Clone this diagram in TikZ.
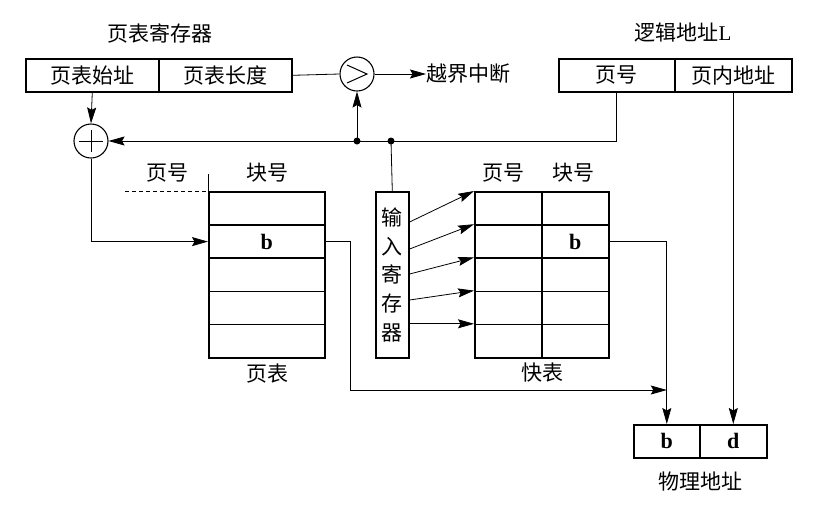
\documentclass[tikz,border=0pt]{standalone}
\usepackage{fontspec}
\setmainfont{Liberation Serif}
\newfontfamily\cjk{Noto Sans CJK SC}
\usetikzlibrary{arrows.meta}
\tikzset{
  head/.tip={Stealth[length=16pt,width=9pt,inset=2.5pt]},
}
\begin{document}
\begin{tikzpicture}[x=1pt,y=-1pt,
  box/.style={draw, line width=1.6pt, inner sep=0pt, anchor=north west, font=\cjk\fontsize{21}{21}\selectfont},
  conn/.style={line width=0.8pt},
  arr/.style={conn,-head},
  lab/.style={font=\cjk\fontsize{21}{21}\selectfont, inner sep=0pt},
  bold/.style={font=\bfseries\fontsize{22}{22}\selectfont},
  dot/.style={circle, fill, inner sep=0pt, minimum size=7pt},
  ring/.style={draw, circle, line width=1.1pt, inner sep=0pt, minimum size=34pt},
  glyph/.style={line width=1pt}]
\useasboundingbox (0,0) rectangle (824,515);
\fill[white] (0,0) rectangle (824,515);

% page table register
\node[lab] (trt) at (160,33) {页表寄存器};
\node[box, minimum width=133pt, minimum height=33pt] (ra) at (25,58) {页表始址};
\node[box, minimum width=133pt, minimum height=33pt] (rb) at (158,58) {页表长度};

% comparator and adder
\node[ring] (cmp) at (357,74) {};
\draw[glyph] (cmp.center) ++(-10,-9) -- ++(20,9) -- ++(-20,9);
\node[ring] (plus) at (91,141) {};
\draw[glyph] (plus.center) ++(-12,0) -- ++(24,0);
\draw[glyph] (plus.center) ++(0,-11) -- ++(0,22);
\node[lab, anchor=west] (ovf) at (426,74) {越界中断};

% logical address
\node[lab] (lat) at (683,33) {逻辑地址{\rmfamily L}};
\node[box, minimum width=116pt, minimum height=33pt] (la1) at (558,58) {页号};
\node[box, minimum width=117pt, minimum height=33pt] (la2) at (674,58) {页内地址};

% junction dots
\node[dot] (d1) at (357,141) {};
\node[dot] (d2) at (391,141) {};

% page table
\foreach \i/\y in {1/191,2/224.2,3/257.4,4/290.6,5/323.8}{
  \node[box, minimum width=116pt, minimum height=33.2pt] (pt\i) at (208,\y) {};
}
\node[bold] at (pt2) {b};
\node[lab] (ph1) at (167,173) {页号};
\node[lab] (ph2) at (267,173) {块号};
\node[lab] (ptl) at (267,374) {页表};
\draw[conn] (pt1.north west) -- ++(0,-17);
\draw[conn, dash pattern=on 4pt off 3pt] (125,191) -- (pt1.north west);

% input register
\node[box, minimum width=33pt, minimum height=166pt, align=center,
      font=\cjk\fontsize{21}{28.7}\selectfont] (inreg) at (375,191) {输\\入\\寄\\存\\器};

% fast table
\foreach \i/\y in {1/191,2/224.2,3/257.4,4/290.6,5/323.8}{
  \node[box, minimum width=67pt, minimum height=33.2pt] (fl\i) at (474,\y) {};
  \node[box, minimum width=67pt, minimum height=33.2pt] (fr\i) at (541,\y) {};
}
\node[bold] at (fr2) {b};
\node[lab] (fh1) at (503,173) {页号};
\node[lab] (fh2) at (573,173) {块号};
\node[lab] (ftl) at (542,373) {快表};

% physical address
\node[box, minimum width=66pt, minimum height=33pt, font=\bfseries\fontsize{22}{22}\selectfont] (pb) at (633,424) {b};
\node[box, minimum width=67pt, minimum height=33pt, font=\bfseries\fontsize{22}{22}\selectfont] (pd) at (699,424) {d};
\node[lab] (pal) at (700,482) {物理地址};

% connectors
\draw[arr] (ra.south) -- (plus.north);
\draw[conn] (rb.east) -- (cmp.west);
\draw[arr] (cmp.east) -- (ovf.west);
\draw[arr] (la1.south) |- (plus.east);
\draw[arr] (d1.center) -- (cmp.south);
\draw[conn] (d2.center) -- (inreg.north);
\draw[arr] (plus.south) |- (pt2.west);
\coordinate (mj) at (pb.north |- 0,390);
\draw[arr] (pt2.east) -- ++(25,0) |- (mj);
\draw[arr] (fr2.east) -| (pb.north);
\draw[arr] (la2.south) -- (pd.north);
\draw[arr] (inreg.east |- 0,222) -- (fl1.north west);
\draw[arr] (inreg.east |- 0,249) -- (fl2.north west);
\draw[arr] (inreg.east |- 0,274) -- (fl3.north west);
\draw[arr] (inreg.east |- 0,300) -- (fl4.north west);
\draw[arr] (inreg.east |- 0,323.8) -- (fl5.north west);
\end{tikzpicture}
\end{document}
